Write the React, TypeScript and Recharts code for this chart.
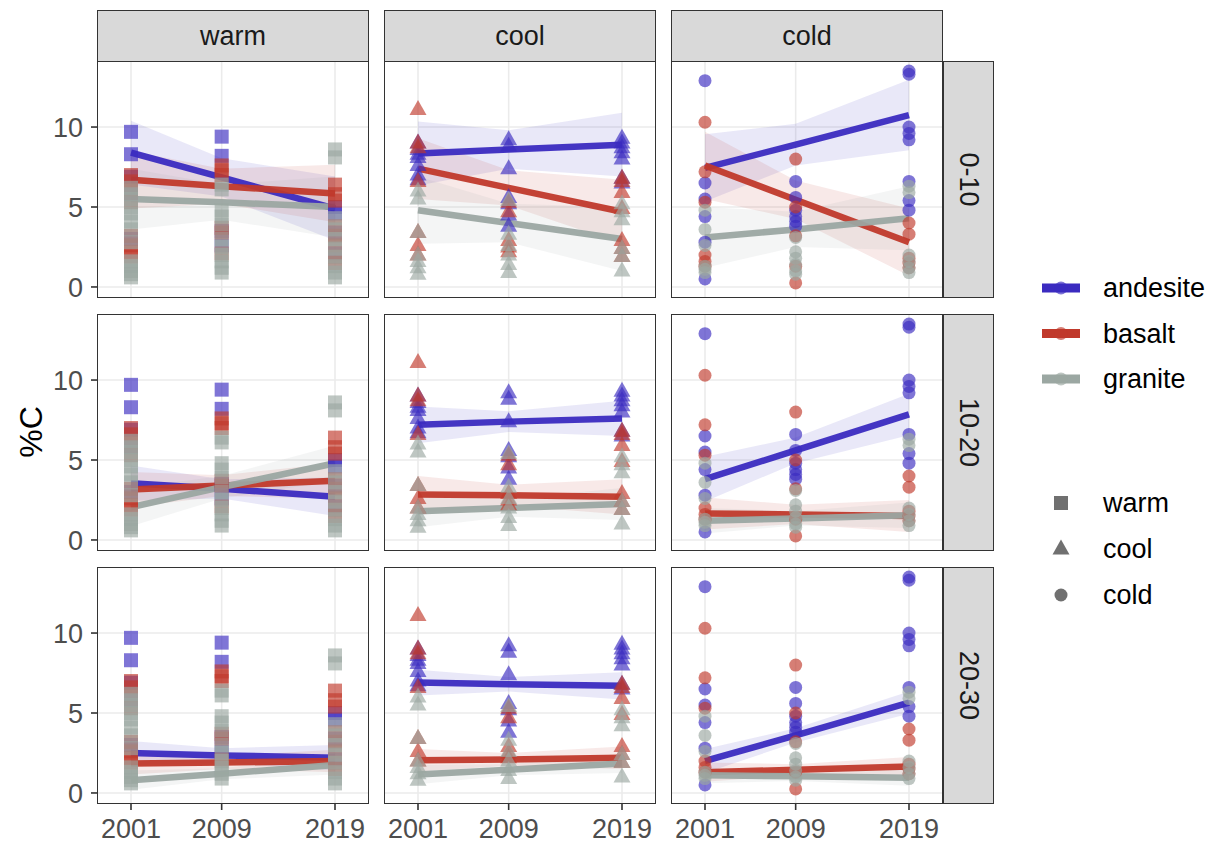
import { ComposedChart, Scatter, Area, Line, XAxis, YAxis, CartesianGrid } from 'recharts';

const FONT = "'Liberation Sans', Arial, Helvetica, sans-serif";

const years = [2001, 2009, 2019];
const yTicks = [0, 5, 10];
const climates = ['warm', 'cool', 'cold'];
const depths = ['0-10', '10-20', '20-30'];
const rocks = ['andesite', 'basalt', 'granite'];

const rockColors: Record<string, string> = {
  andesite: '#3b2bc0',
  basalt: '#c0392b',
  granite: '#9ba7a2',
};

// observed %C per sample, [year][samples] — the same points appear in every depth row
const warmAndesite = [[9.7, 8.3, 6.9, 5.8, 3.0], [9.4, 8.2, 3.5, 2.6], [5.0, 4.6, 3.4, 2.1]];
const warmBasalt = [[7.0, 6.6, 6.1, 5.3, 3.2, 2.6, 2.2, 1.9], [7.6, 7.3, 7.0, 3.7, 3.4, 2.1], [6.4, 5.8, 5.4, 3.8, 3.2, 2.6, 1.9, 1.5]];
const warmGranite = [[6.2, 5.8, 5.5, 5.0, 4.6, 4.1, 3.6, 2.8, 1.6, 1.3, 1.0, 0.8, 0.6], [6.4, 6.1, 4.8, 4.4, 3.9, 3.0, 2.5, 2.0, 1.6, 1.2, 0.9], [8.6, 8.1, 4.3, 3.6, 3.0, 2.4, 1.9, 1.3, 0.9, 0.6]];

const coolAndesite = [[9.0, 8.6, 8.3, 8.1, 7.6, 7.0, 6.7], [9.2, 8.8, 7.4, 5.6, 5.2, 4.5, 3.8], [9.3, 9.0, 8.7, 8.4, 8.0, 6.8, 6.5]];
const coolBasalt = [[11.1, 9.0, 8.7, 6.6, 3.4, 2.6, 2.0], [5.3, 4.7, 2.9, 2.5, 2.2], [6.8, 6.6, 5.9, 4.9, 2.9, 2.4, 1.9]];
const coolGranite = [[6.0, 5.5, 3.4, 2.0, 1.6, 1.2, 0.8], [5.4, 3.3, 2.6, 2.0, 1.4, 0.9], [5.2, 4.7, 4.2, 2.4, 1.9, 1.0]];

const coldAndesite = [[12.9, 6.5, 5.5, 4.4, 2.8, 0.5], [6.6, 5.6, 4.8, 4.4, 4.1, 3.8], [13.5, 13.3, 10.0, 9.6, 9.2, 6.6, 5.4, 4.8]];
const coldBasalt = [[10.3, 7.2, 5.3, 2.0, 1.6, 1.3], [8.0, 5.0, 3.2, 1.3, 0.25], [4.0, 3.3, 1.8, 1.5, 1.2]];
const coldGranite = [[4.8, 3.6, 2.6, 1.3, 1.1, 0.9], [3.1, 2.2, 1.8, 1.4, 1.0, 0.8], [6.3, 5.9, 2.0, 1.6, 1.2, 0.9]];

// fitted %C at 2001, 2009, 2019 — [depth][climate]
const andesiteFit = [
  [[8.4, 6.85, 4.9], [8.35, 8.6, 8.9], [7.45, 8.9, 10.75]],
  [[3.55, 3.2, 2.7], [7.2, 7.4, 7.6], [3.8, 5.6, 7.85]],
  [[2.5, 2.35, 2.2], [6.9, 6.8, 6.7], [2.0, 3.6, 5.65]],
];
const basaltFit = [
  [[6.7, 6.3, 5.85], [7.4, 6.2, 4.7], [7.6, 5.45, 2.8]],
  [[3.15, 3.4, 3.7], [2.85, 2.8, 2.7], [1.65, 1.6, 1.5]],
  [[1.85, 1.9, 2.0], [2.05, 2.1, 2.2], [1.3, 1.45, 1.65]],
];
const graniteFit = [
  [[5.5, 5.3, 5.0], [4.8, 4.0, 3.0], [3.1, 3.6, 4.3]],
  [[2.05, 3.3, 4.8], [1.8, 2.0, 2.25], [1.2, 1.35, 1.55]],
  [[0.8, 1.2, 1.75], [1.15, 1.45, 1.85], [1.1, 1.05, 0.95]],
];

// half-width of the confidence band at 2001, 2009, 2019 — [depth][climate]
const andesiteSe = [
  [[2.0, 1.2, 2.0], [2.0, 1.2, 2.0], [2.1, 1.3, 2.2]],
  [[1.1, 0.6, 1.2], [1.15, 0.65, 1.1], [1.4, 0.8, 1.3]],
  [[0.75, 0.45, 0.8], [0.8, 0.45, 0.85], [0.75, 0.45, 0.7]],
];
const basaltSe = [
  [[1.8, 1.1, 1.8], [1.9, 1.1, 2.0], [2.1, 1.2, 2.1]],
  [[1.1, 0.65, 1.1], [1.15, 0.65, 1.1], [1.0, 0.6, 1.0]],
  [[0.7, 0.4, 0.7], [0.7, 0.4, 0.7], [0.6, 0.35, 0.6]],
];
const graniteSe = [
  [[1.9, 1.1, 1.9], [2.1, 1.2, 2.0], [1.9, 1.1, 2.0]],
  [[1.2, 0.7, 1.1], [1.0, 0.55, 1.0], [0.8, 0.45, 0.8]],
  [[0.6, 0.35, 0.6], [0.6, 0.35, 0.6], [0.5, 0.3, 0.5]],
];

const pointSets: Record<string, Record<string, number[][]>> = {
  warm: { andesite: warmAndesite, basalt: warmBasalt, granite: warmGranite },
  cool: { andesite: coolAndesite, basalt: coolBasalt, granite: coolGranite },
  cold: { andesite: coldAndesite, basalt: coldBasalt, granite: coldGranite },
};
const fits: Record<string, number[][][]> = { andesite: andesiteFit, basalt: basaltFit, granite: graniteFit };
const ses: Record<string, number[][][]> = { andesite: andesiteSe, basalt: basaltSe, granite: graniteSe };

const colLeft = [97, 384, 671];
const rowTop = [61, 314, 567];
const PANEL_W = 272;
const PANEL_H = 237;
const Y_AXIS_W = 60;
const X_AXIS_H = 45;
const LABEL_PAD = 14; // room under upper rows so the "0" tick label is not clipped

function makeShape(climate: string, color: string) {
  return (props: any) => {
    const { cx, cy } = props;
    if (climate === 'warm') {
      return <rect x={cx - 7} y={cy - 7} width={14} height={14} fill={color} fillOpacity={0.65} />;
    }
    if (climate === 'cool') {
      return (
        <polygon
          points={`${cx},${cy - 9.5} ${cx - 8.5},${cy + 5.5} ${cx + 8.5},${cy + 5.5}`}
          fill={color}
          fillOpacity={0.65}
        />
      );
    }
    return <circle cx={cx} cy={cy} r={6.5} fill={color} fillOpacity={0.65} />;
  };
}

function Panel({ ci, di }: { ci: number; di: number }) {
  const climate = climates[ci];
  const showY = ci === 0;
  const showX = di === 2;
  const width = PANEL_W + (showY ? Y_AXIS_W : 0);
  const height = PANEL_H + (showX ? X_AXIS_H : LABEL_PAD);

  const rows = years.map((year, yi) => {
    const row: any = { year };
    rocks.forEach((rock) => {
      const f = fits[rock][di][ci][yi];
      const s = ses[rock][di][ci][yi];
      row[`${rock}Fit`] = f;
      row[`${rock}Band`] = [f - s, f + s];
    });
    return row;
  });

  return (
    <div
      style={{
        position: 'absolute',
        left: colLeft[ci] - (showY ? Y_AXIS_W : 0),
        top: rowTop[di],
      }}
    >
      <ComposedChart
        width={width}
        height={height}
        data={rows}
        margin={{ top: 0, right: 0, bottom: showX ? 0 : LABEL_PAD, left: 0 }}
      >
        <CartesianGrid stroke="#ebebeb" strokeWidth={1.6} horizontalValues={yTicks} verticalValues={years} />
        <XAxis
          dataKey="year"
          type="number"
          domain={[1998, 2022]}
          ticks={years}
          interval={0}
          allowDataOverflow
          hide={!showX}
          height={X_AXIS_H}
          axisLine={false}
          tickSize={6}
          tickMargin={9}
          tickLine={{ stroke: '#333333', strokeWidth: 1.6 }}
          tick={{ fill: '#4d4d4d', fontSize: 27, fontFamily: FONT }}
        />
        <YAxis
          type="number"
          domain={[-0.69, 14.13]}
          ticks={yTicks}
          interval={0}
          allowDataOverflow
          hide={!showY}
          width={Y_AXIS_W}
          axisLine={false}
          tickSize={6}
          tickMargin={8}
          tickLine={{ stroke: '#333333', strokeWidth: 1.6 }}
          tick={{ fill: '#4d4d4d', fontSize: 27, fontFamily: FONT }}
        />
        {rocks.map((rock) => (
          <Scatter
            key={`pts-${rock}`}
            data={pointSets[climate][rock].flatMap((vals, yi) => vals.map((v) => ({ year: years[yi], v })))}
            dataKey="v"
            shape={makeShape(climate, rockColors[rock])}
            isAnimationActive={false}
          />
        ))}
        {rocks.map((rock) => (
          <Area
            key={`band-${rock}`}
            dataKey={`${rock}Band`}
            type="linear"
            stroke="none"
            fill={rockColors[rock]}
            fillOpacity={0.11}
            isAnimationActive={false}
          />
        ))}
        {rocks.map((rock) => (
          <Line
            key={`fit-${rock}`}
            dataKey={`${rock}Fit`}
            type="linear"
            stroke={rockColors[rock]}
            strokeWidth={6.5}
            dot={false}
            strokeOpacity={0.95}
            isAnimationActive={false}
          />
        ))}
      </ComposedChart>
    </div>
  );
}

const stripBox = {
  position: 'absolute' as const,
  background: '#d9d9d9',
  border: '1.6px solid #333333',
  boxSizing: 'border-box' as const,
  display: 'flex',
  alignItems: 'center',
  justifyContent: 'center',
  color: '#1a1a1a',
  fontSize: 27,
  fontFamily: FONT,
};

export default function App() {
  return (
    <div style={{ position: 'absolute', left: 0, top: 0, width: 1225, height: 844, background: '#fff', fontFamily: FONT }}>
      {depths.map((_, di) => climates.map((_c, ci) => <Panel key={`${ci}-${di}`} ci={ci} di={di} />))}

      {depths.map((_, di) =>
        climates.map((_c, ci) => (
          <div
            key={`border-${ci}-${di}`}
            style={{
              position: 'absolute',
              left: colLeft[ci],
              top: rowTop[di],
              width: PANEL_W,
              height: PANEL_H,
              border: '1.6px solid #333333',
              boxSizing: 'border-box',
              pointerEvents: 'none',
            }}
          />
        ))
      )}

      {climates.map((c, ci) => (
        <div key={`strip-${c}`} style={{ ...stripBox, left: colLeft[ci], top: 10, width: PANEL_W, height: 52 }}>
          {c}
        </div>
      ))}
      {depths.map((d, di) => (
        <div key={`strip-${d}`} style={{ ...stripBox, left: 943, top: rowTop[di], width: 51, height: PANEL_H }}>
          <span style={{ transform: 'rotate(90deg)', whiteSpace: 'nowrap' }}>{d}</span>
        </div>
      ))}

      <svg width={1225} height={844} style={{ position: 'absolute', left: 0, top: 0, pointerEvents: 'none' }}>
        <text
          x={0}
          y={0}
          transform="translate(42 432) rotate(-90)"
          textAnchor="middle"
          fontSize={32}
          fontFamily={FONT}
          fill="#000"
        >
          %C
        </text>
        {rocks.map((rock, i) => {
          const y = 288 + i * 45.5;
          return (
            <g key={`leg-${rock}`}>
              <line x1={1042} x2={1080} y1={y} y2={y} stroke={rockColors[rock]} strokeWidth={9} />
              <circle cx={1061} cy={y} r={6.5} fill={rockColors[rock]} fillOpacity={0.65} />
              <text x={1103} y={y} dy="0.35em" fontSize={27} fontFamily={FONT} fill="#000">
                {rock}
              </text>
            </g>
          );
        })}
        {climates.map((c, i) => {
          const y = 503 + i * 46;
          const cx = 1061;
          return (
            <g key={`leg-${c}`}>
              {c === 'warm' && <rect x={cx - 7} y={y - 7} width={14} height={14} fill="#333" fillOpacity={0.7} />}
              {c === 'cool' && (
                <polygon
                  points={`${cx},${y - 9.5} ${cx - 8.5},${y + 5.5} ${cx + 8.5},${y + 5.5}`}
                  fill="#333"
                  fillOpacity={0.7}
                />
              )}
              {c === 'cold' && <circle cx={cx} cy={y} r={6.5} fill="#333" fillOpacity={0.7} />}
              <text x={1103} y={y} dy="0.35em" fontSize={27} fontFamily={FONT} fill="#000">
                {c}
              </text>
            </g>
          );
        })}
      </svg>
    </div>
  );
}
